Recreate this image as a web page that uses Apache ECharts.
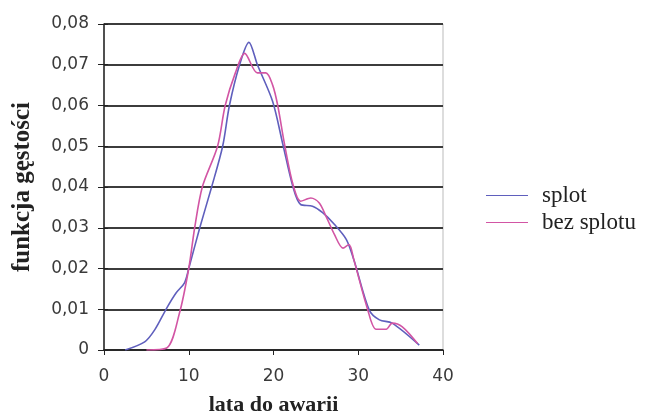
<!DOCTYPE html>
<html>
<head>
<meta charset="utf-8">
<script src="https://cdn.jsdelivr.net/npm/echarts@6/dist/echarts.min.js"></script>
<style>
  html, body { margin: 0; padding: 0; background: #fff; }
  #chart { width: 654px; height: 419px; }
</style>
</head>
<body>
<div id="chart"></div>
<script>
// dane: [lata, gęstość]
const seriesNames = ['splot', 'bez splotu'];
const splot = [
  [2.5, 0], [4.8, 0.002], [6, 0.005], [7.4, 0.0103], [8.5, 0.014], [9.5, 0.0165],
  [10.0, 0.02], [11.3, 0.03], [12.7, 0.04], [14.0, 0.05], [14.8, 0.06],
  [16, 0.07], [17.1, 0.0755], [18.1, 0.07], [19.9, 0.061], [21.1, 0.0505],
  [22.3, 0.040], [23.2, 0.0357], [24.6, 0.0353], [25.8, 0.0337], [27.2, 0.0308],
  [28.6, 0.0271], [29.5, 0.022], [31.3, 0.0098], [32.5, 0.0074], [34, 0.0066],
  [37.2, 0.0012]
];
const bezSplotu = [
  [5, 0], [7.4, 0.0005], [8.9, 0.009], [10.0, 0.02], [10.7, 0.03], [11.6, 0.04],
  [13.4, 0.05], [14.3, 0.06], [15.5, 0.068], [16.6, 0.0728], [18.1, 0.068],
  [19.1, 0.068], [19.9, 0.065], [20.5, 0.06], [21.3, 0.0505], [22.3, 0.0406],
  [23.2, 0.0365], [24.4, 0.0373], [25.4, 0.0361], [26.2, 0.0328], [27.2, 0.0283],
  [28.2, 0.025], [28.9, 0.0259], [29.5, 0.022], [31.1, 0.01], [32.1, 0.0051],
  [33.3, 0.0051], [34.0, 0.0066], [35.2, 0.0057], [37, 0.0016]
];
const colors = ['#5f5fbd', '#d255a4'];

const chart = echarts.init(document.getElementById('chart'));
const tickFont = { fontFamily: 'DejaVu Sans', fontSize: 17, color: '#3a3a3a' };

const option = {
  animation: false,
  color: colors,
  grid: {
    left: 104, right: 211, top: 24, bottom: 69,
    outerBoundsMode: 'none', containLabel: false,
    show: true, borderColor: '#bbb', borderWidth: 1
  },
  legend: {
    orient: 'vertical',
    left: 481, top: 179,
    itemWidth: 42, itemHeight: 12, itemGap: 4,
    icon: 'path://M0,5.5 L42,5.5 L42,6.5 L0,6.5 Z',
    textStyle: { fontFamily: 'Liberation Serif', fontSize: 23, color: '#222', padding: [0, 0, 0, 9] },
    data: seriesNames
  },
  xAxis: {
    type: 'value', min: 0, max: 40, interval: 10,
    name: 'lata do awarii', nameLocation: 'middle', nameGap: 44, nameMoveOverlap: false,
    nameTextStyle: { fontFamily: 'Liberation Serif', fontWeight: 'bold', fontSize: 22, color: '#222' },
    axisLine: { lineStyle: { color: '#222', width: 1.5 } },
    axisTick: { show: true, length: 5, lineStyle: { color: '#222' } },
    axisLabel: Object.assign({ margin: 18 }, tickFont),
    splitLine: { show: false }
  },
  yAxis: [{
    type: 'value', min: 0, max: 0.08, interval: 0.01,
    name: 'funkcja gęstości', nameLocation: 'middle', nameGap: 69, nameRotate: 90, nameMoveOverlap: false,
    nameTextStyle: { fontFamily: 'Liberation Serif', fontWeight: 'bold', fontSize: 25, color: '#222' },
    axisLine: { show: true, lineStyle: { color: '#222', width: 1.5 } },
    axisTick: { show: true, length: 6, lineStyle: { color: '#222' } },
    axisLabel: Object.assign({
      margin: 15,
      formatter: v => v === 0 ? '0' : v.toFixed(2).replace('.', ',')
    }, tickFont),
    splitLine: { show: true, lineStyle: { color: '#3c3c3c', width: 2 } }
  }, {
    type: 'value', min: 0, max: 0.08, interval: 0.01, position: 'left',
    axisLine: { show: false },
    axisTick: { show: true, inside: true, length: 4, lineStyle: { color: '#222' } },
    axisLabel: { show: false },
    splitLine: { show: false }
  }],
  series: [
    { name: seriesNames[0], type: 'line', data: splot, smooth: 0.3, showSymbol: false, lineStyle: { width: 1.6 } },
    { name: seriesNames[1], type: 'line', data: bezSplotu, smooth: 0.3, showSymbol: false, lineStyle: { width: 1.6 } }
  ]
};
chart.setOption(option);
</script>
</body>
</html>
